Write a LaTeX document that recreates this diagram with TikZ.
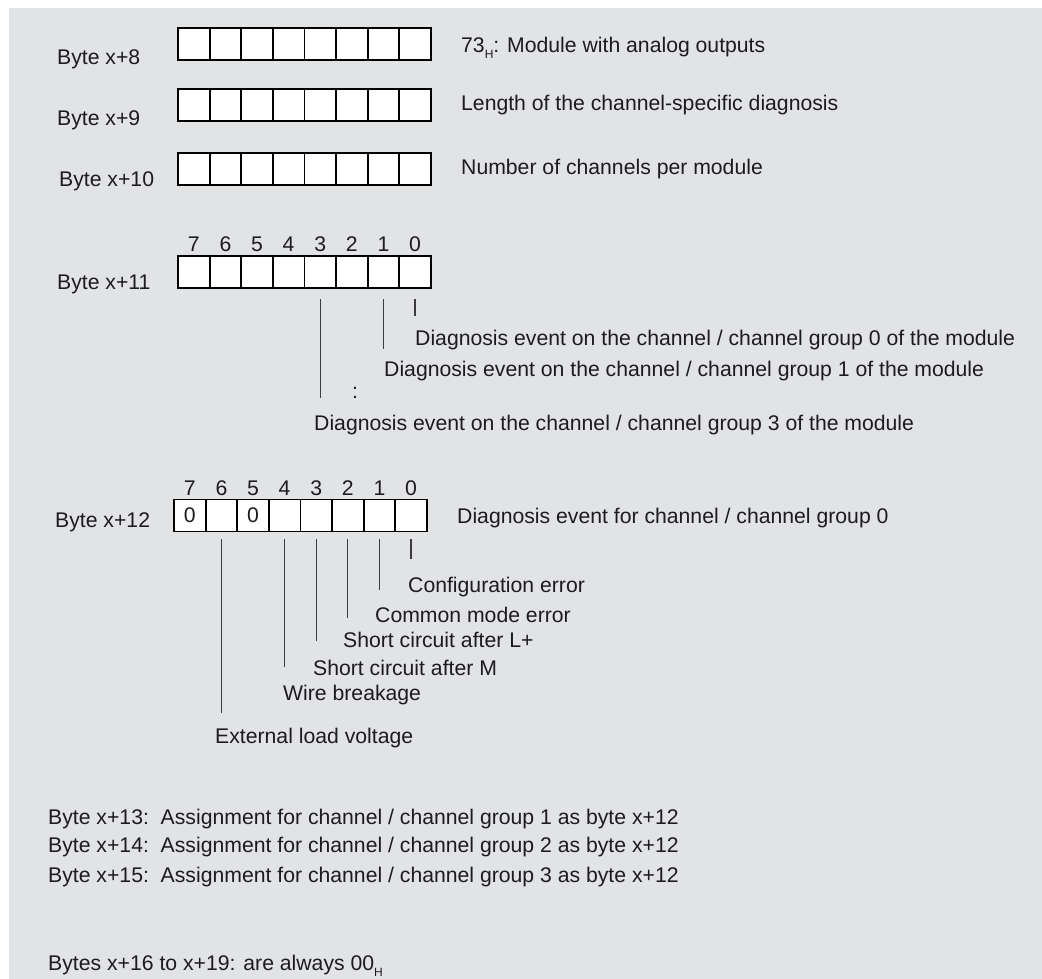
\documentclass[tikz,border=0pt]{standalone}
\usepackage{fontspec}
\setmainfont{Liberation Sans}
\usepackage{tikz}
\usetikzlibrary{positioning}
\usepackage{xcolor}
\definecolor{bggray}{RGB}{226,227,229}
\definecolor{ink}{RGB}{28,28,30}
\definecolor{leadgray}{RGB}{60,60,62}
\newcommand{\hexsub}{\raisebox{-0.5ex}{\fontsize{12}{12}\selectfont H}}

\begin{document}
\begin{tikzpicture}[x=1pt, y=-1pt, every node/.style={font=\fontsize{21.2}{25}\selectfont, text=ink},
  bitcell/.style={draw=black, line width=1.8pt, fill=white, minimum width=31.6pt, minimum height=32pt, inner sep=0pt},
  bitnum/.style={inner sep=0pt},
  txt/.style={anchor=base west, inner sep=0pt},
  lead/.style={draw=leadgray, line width=1.3pt}]
\useasboundingbox (0,0) rectangle (1042,979);
\fill[bggray] (9,8) rectangle (1042,979);

\foreach \r/\y in {8/44, 9/105, 10/169, 11/272}
  \foreach \b in {0,...,7}
    \node[bitcell] (r\r-\b) at ({193.8+31.6*(7-\b)}, \y) {};
\foreach \b in {0,...,7}
  \node[bitcell] (r12-\b) at ({189.8+31.6*(7-\b)}, 515.5) {};
\node (z7) at (r12-7) {0};
\node (z5) at (r12-5) {0};

\foreach \b in {0,...,7} {
  \node[bitnum, above=3pt of r11-\b] (n11-\b) {\b};
  \node[bitnum, above=3pt of r12-\b] (n12-\b) {\b};
}

\node[txt] (lbl8) at (57,64.5) {Byte x+8};
\node[txt] (lbl9) at (57,125.5) {Byte x+9};
\node[txt] (lbl10) at (59,186.5) {Byte x+10};
\node[txt] (lbl11) at (57,289.5) {Byte x+11};
\node[txt] (lbl12) at (55,527.5) {Byte x+12};

\node[txt] (t8) at (461,52.5) {73\hexsub: Module with analog outputs};
\node[txt] (t9) at (461,110.5) {Length of the channel-specific diagnosis};
\node[txt] (t10) at (461,174.5) {Number of channels per module};

\node[txt] (g0) at (415,345.5) {Diagnosis event on the channel / channel group 0 of the module};
\node[txt] (g1) at (384,376.5) {Diagnosis event on the channel / channel group 1 of the module};
\node[txt] (gdots) at (352,398.5) {:};
\node[txt] (g3) at (314,430.5) {Diagnosis event on the channel / channel group 3 of the module};
\draw[lead] ([yshift=-10pt]r11-0.south) -- ++(0,17);
\draw[lead] ([yshift=-10pt]r11-1.south) -- ++(0,50);
\draw[lead] ([yshift=-10pt]r11-3.south) -- ++(0,99);

\node[txt] (d0) at (457,523.5) {Diagnosis event for channel / channel group 0};
\node[txt] (e0) at (408,592.5) {Configuration error};
\node[txt] (e1) at (375,622.5) {Common mode error};
\node[txt] (e2) at (343,647.5) {Short circuit after L+};
\node[txt] (e3) at (313,675.5) {Short circuit after M};
\node[txt] (e4) at (283,700.5) {Wire breakage};
\node[txt] (e6) at (215,743.5) {External load voltage};
\foreach \b/\l in {0/20, 1/51, 2/79, 3/102, 4/128, 6/174}
  \draw[lead] ([yshift=-7pt]r12-\b.south) -- ++(0,\l);

\node[txt] (a13) at (48,824.5) {Byte x+13:\ \ Assignment for channel / channel group 1 as byte x+12};
\node[txt] (a14) at (48,852.5) {Byte x+14:\ \ Assignment for channel / channel group 2 as byte x+12};
\node[txt] (a15) at (48,882.5) {Byte x+15:\ \ Assignment for channel / channel group 3 as byte x+12};
\node[txt] (a16) at (48,970.5) {Bytes x+16 to x+19: are always 00\hexsub};
\end{tikzpicture}
\end{document}
